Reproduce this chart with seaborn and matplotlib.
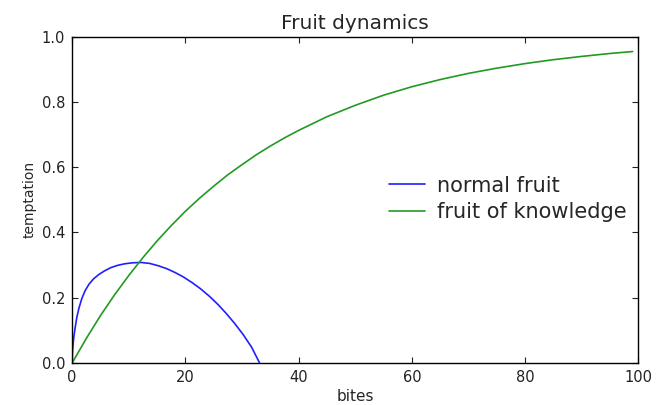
import seaborn as sns
import matplotlib.pyplot as plt
import pandas as pd

sns.set_style("ticks")
plt.rcParams['font.family'] = ['DejaVu Sans']

# values
normal_bites = [0, 0.05, 0.15, 0.3, 0.5, 0.83, 1.2, 1.7, 2.3, 3.0, 3.8, 4.7, 5.7,
                6.8, 8.0, 9.3, 10.7, 12.2, 13.7, 15.2, 16.7, 18.2, 19.7, 21.2,
                22.7, 24.2, 25.7, 27.2, 28.7, 30.2, 31.7, 33.1]
normal_temptation = [0, 0.03, 0.055, 0.08, 0.105, 0.14, 0.168, 0.197, 0.222, 0.242,
                     0.258, 0.271, 0.282, 0.292, 0.299, 0.304, 0.307, 0.308, 0.305,
                     0.298, 0.289, 0.277, 0.263, 0.246, 0.227, 0.205, 0.180, 0.152,
                     0.121, 0.087, 0.048, 0.0]

knowledge_bites = [0, 2.5, 5, 7.5, 10, 12.5, 15, 17.5, 20, 22.5, 25, 27.5, 30, 32.5,
                   35, 37.5, 40, 45, 50, 55, 60, 65, 70, 75, 80, 85, 90, 95, 99]
knowledge_temptation = [0, 0.075, 0.145, 0.209, 0.268, 0.323, 0.374, 0.421, 0.465,
                        0.505, 0.542, 0.577, 0.608, 0.638, 0.665, 0.690, 0.713,
                        0.755, 0.790, 0.821, 0.847, 0.869, 0.888, 0.904, 0.918,
                        0.930, 0.940, 0.949, 0.955]

df = pd.concat([
    pd.DataFrame({"bites": normal_bites, "temptation": normal_temptation,
                  "fruit": "normal fruit"}),
    pd.DataFrame({"bites": knowledge_bites, "temptation": knowledge_temptation,
                  "fruit": "fruit of knowledge"}),
])

fig = plt.figure(figsize=(6.56, 4.05), dpi=100)
ax = fig.add_axes([0.110, 0.104, 0.863, 0.805])

sns.lineplot(data=df, x="bites", y="temptation", hue="fruit", sort=False,
             palette={"normal fruit": "#1f1fff", "fruit of knowledge": "#229a22"},
             linewidth=1.2, ax=ax)

ax.set_xlim(0, 100)
ax.set_ylim(0, 1.0)
ax.set_xticks([0, 20, 40, 60, 80, 100])
ax.set_yticks([0.0, 0.2, 0.4, 0.6, 0.8, 1.0])
ax.set_yticklabels(["0.0", "0.2", "0.4", "0.6", "0.8", "1.0"])
ax.tick_params(direction="in", top=True, right=True, length=4, width=0.8,
               labelsize=10.5, colors="#222222", pad=5)
for s in ax.spines.values():
    s.set_linewidth(1.0)
    s.set_color("black")

ax.set_title("Fruit dynamics", fontsize=14.5, pad=6)
ax.set_xlabel("bites", fontsize=11, labelpad=3)
ax.set_ylabel("temptation", fontsize=10)

ax.legend(frameon=False, fontsize=15, loc="center left",
          bbox_to_anchor=(0.526, 0.503), handlelength=1.75, handletextpad=0.55,
          labelspacing=0.32)

plt.savefig("out.png", dpi=100)
plt.close()
